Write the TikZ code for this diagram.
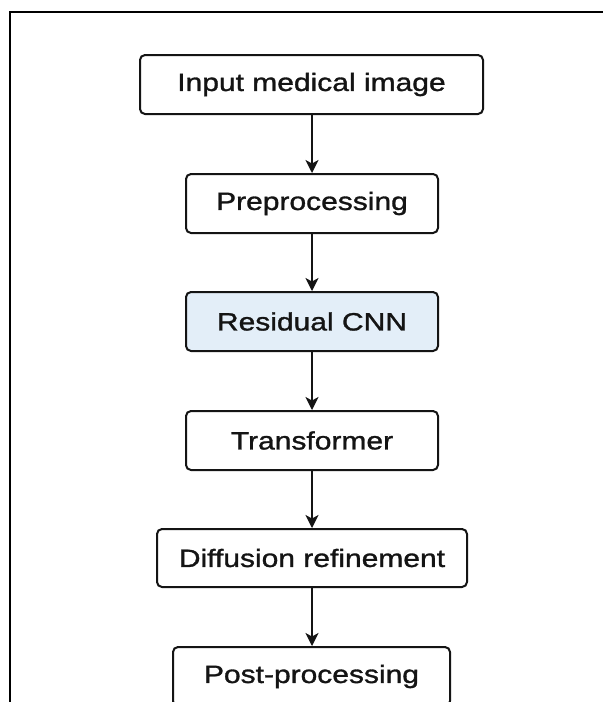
\documentclass[tikz,border=0pt]{standalone}
\usepackage{fontspec}
\setmainfont{Liberation Sans}[FakeStretch=1.2,FakeBold=1.2]
\usetikzlibrary{arrows.meta}
\definecolor{txt}{HTML}{141414}
\definecolor{bluefill}{HTML}{E3EEF8}
\tikzset{
  box/.style={draw=txt, line width=2pt, rounded corners=5pt, fill=white,
    inner sep=0pt, text=txt, font=\fontsize{25}{28}\selectfont},
  arr/.style={draw=txt, line width=1.6pt, -{Stealth[length=13pt,width=13pt,inset=3.5pt]}},
  frame/.style={draw=black, line width=2pt}
}
\begin{document}
\begin{tikzpicture}[x=1pt,y=-1pt]
\useasboundingbox (0,0) rectangle (603,702);
\clip (0,0) rectangle (603,702);
\fill[white] (0,0) rectangle (603,702);
\coordinate (fa) at (10,702);
\coordinate (fb) at (10,12);
\coordinate (fc) at (603,12);
\draw[frame] (fa) -- (fb) -- (fc);
\node[box, minimum width=343pt, minimum height=59pt] (b1) at (311.5,84.5) {Input medical image};
\node[box, minimum width=252pt, minimum height=59pt] (b2) at (312,203.5) {Preprocessing};
\node[box, minimum width=252pt, minimum height=59pt, fill=bluefill] (b3) at (312,321.5) {Residual CNN};
\node[box, minimum width=252pt, minimum height=59pt] (b4) at (312,440.5) {Transformer};
\node[box, minimum width=310pt, minimum height=58pt] (b5) at (312,558) {Diffusion refinement};
\node[box, minimum width=277pt, minimum height=59pt] (b6) at (311.5,676.5) {Post-processing};
\draw[arr] (b1.south -| b2.north) -- (b2.north);
\draw[arr] (b2.south) -- (b3.north);
\draw[arr] (b3.south) -- (b4.north);
\draw[arr] (b4.south) -- (b5.north);
\draw[arr] (b5.south) -- (b6.north -| b5.south);
\end{tikzpicture}
\end{document}
